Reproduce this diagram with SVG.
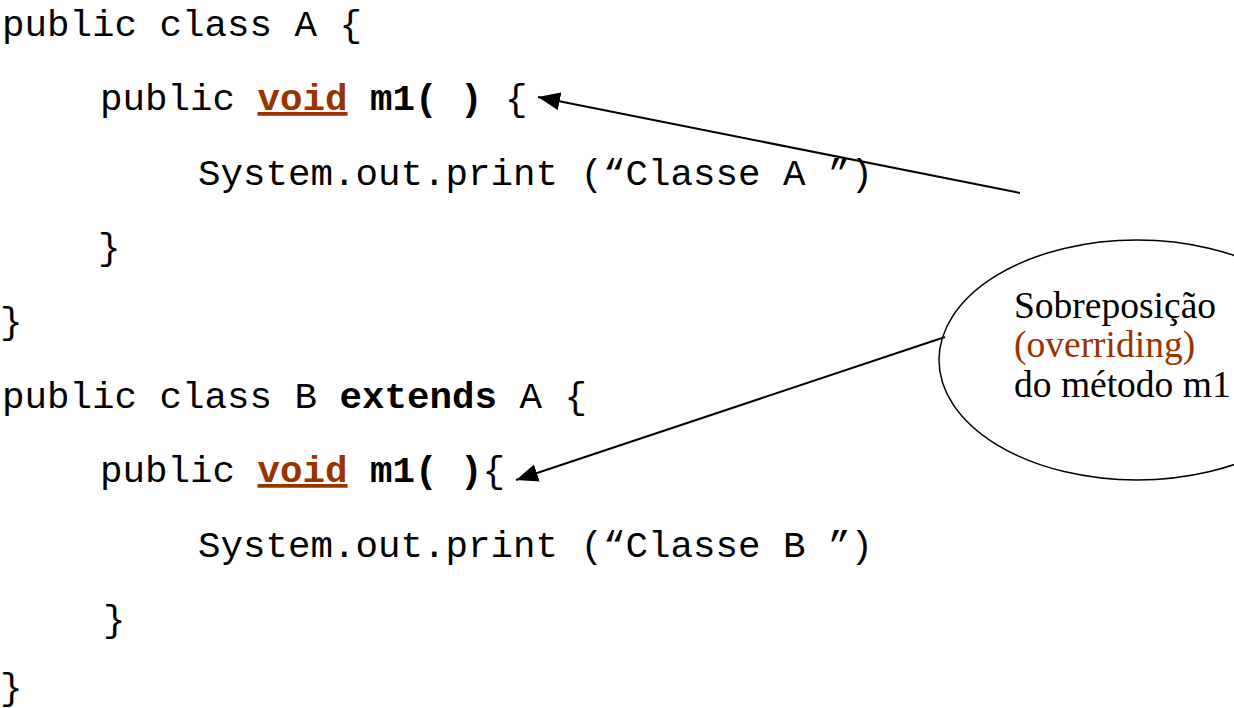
<svg xmlns="http://www.w3.org/2000/svg" width="1234" height="708" viewBox="0 0 1234 708">
<defs>
<style>
.code{font-family:"Liberation Mono","Courier New",monospace;font-size:37.5px;fill:#000;}
.b{font-weight:bold;}
.kw{font-weight:bold;fill:#993300;text-decoration:underline;text-decoration-thickness:4px;text-underline-offset:6px;}
.note{font-family:"Liberation Serif","Times New Roman",serif;font-size:37.5px;fill:#000;}
.brown{fill:#993300;}
.conn{stroke:#000;stroke-width:2;fill:none;marker-end:url(#ah);}
</style>
<marker id="ah" markerUnits="userSpaceOnUse" markerWidth="24" markerHeight="18" refX="22" refY="9" orient="auto">
<path d="M0,0 L22,9 L0,18 Z" fill="#000"/>
</marker>
</defs>
<rect width="1234" height="708" fill="#fff"/>
<g id="code">
<text class="code" x="2" y="36" xml:space="preserve">public class A {</text>
<text class="code" x="100" y="110" xml:space="preserve">public <tspan class="kw">void</tspan> <tspan class="b">m1( )</tspan> {</text>
<text class="code" x="198" y="185" xml:space="preserve">System.out.print (“Classe A ”)</text>
<text class="code" x="98" y="259">}</text>
<text class="code" x="0" y="333">}</text>
<text class="code" x="2" y="408" xml:space="preserve">public class B <tspan class="b">extends</tspan> A {</text>
<text class="code" x="100" y="482" xml:space="preserve">public <tspan class="kw">void</tspan> <tspan class="b">m1( )</tspan>{</text>
<text class="code" x="198" y="557" xml:space="preserve">System.out.print (“Classe B ”)</text>
<text class="code" x="103" y="631">}</text>
<text class="code" x="0" y="699">}</text>
</g>
<g id="note">
<ellipse cx="1137" cy="360" rx="198" ry="120" fill="none" stroke="#000" stroke-width="1.5"/>
<text class="note" x="1014" y="318">Sobreposição</text>
<text class="note brown" x="1014" y="357">(overriding)</text>
<text class="note" x="1014" y="397">do método m1</text>
</g>
<g id="connectors">
<line class="conn" x1="1020" y1="193" x2="538" y2="97"/>
<line class="conn" x1="945" y1="337" x2="516" y2="480"/>
</g>
</svg>
